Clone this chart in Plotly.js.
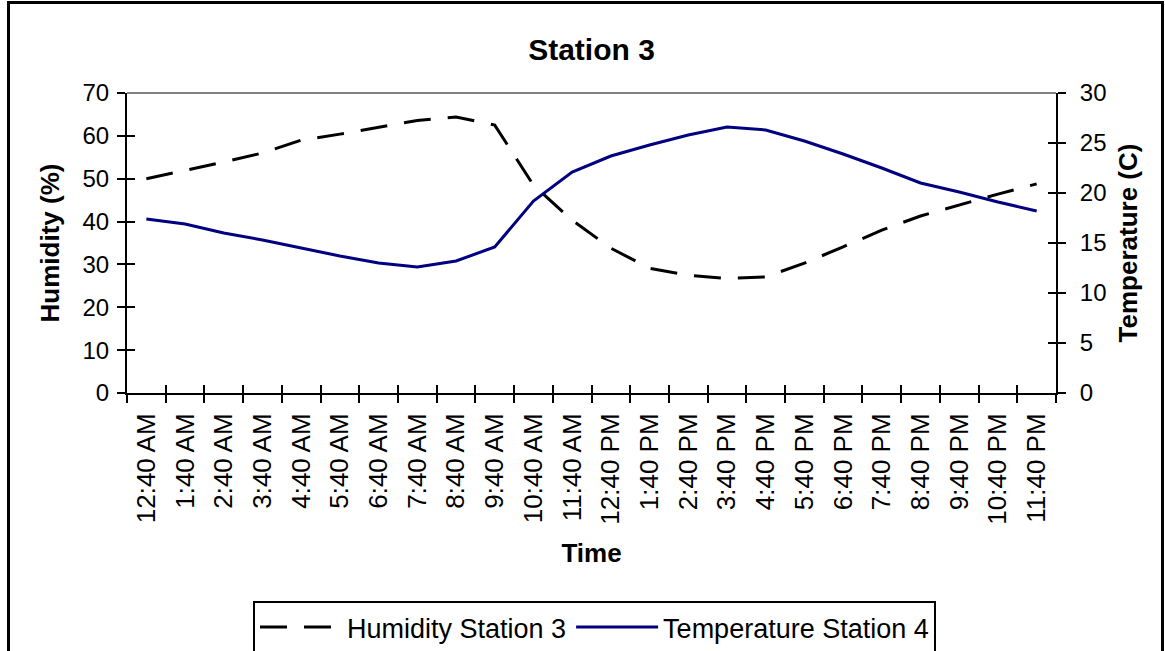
<!DOCTYPE html>
<html>
<head>
<meta charset="utf-8">
<script src="https://cdn.plot.ly/plotly-3.0.1.min.js"></script>
<style>
html,body{margin:0;padding:0;background:#fff;}
#wrap{position:relative;width:1165px;height:651px;overflow:hidden;}
#chart{width:1165px;height:651px;}
#frame{position:absolute;left:7px;top:1px;width:1151px;height:700px;border:3px solid #000;border-bottom:none;pointer-events:none;}
</style>
</head>
<body>
<div id="wrap"><div id="chart"></div><div id="frame"></div></div>
<script>
const categories = ["12:40 AM","1:40 AM","2:40 AM","3:40 AM","4:40 AM","5:40 AM","6:40 AM","7:40 AM","8:40 AM","9:40 AM","10:40 AM","11:40 AM",
  "12:40 PM","1:40 PM","2:40 PM","3:40 PM","4:40 PM","5:40 PM","6:40 PM","7:40 PM","8:40 PM","9:40 PM","10:40 PM","11:40 PM"];
const humidity = [50.0, 51.9, 53.9, 56.0, 59.0, 60.4, 62.0, 63.6, 64.4, 62.5, 48.5, 40.3,
  33.8, 29.1, 27.5, 26.7, 27.1, 30.3, 34.1, 38.0, 41.3, 43.9, 46.4, 48.8];
const temperature = [17.4, 16.9, 16.0, 15.3, 14.5, 13.7, 13.0, 12.6, 13.2, 14.6, 19.2, 22.1,
  23.7, 24.8, 25.8, 26.6, 26.3, 25.2, 23.9, 22.5, 21.0, 20.1, 19.1, 18.2];
const humidityTicks = [0,10,20,30,40,50,60,70];
const temperatureTicks = [0,5,10,15,20,25,30];

const FONT = "Liberation Sans, Arial, sans-serif";
const n = categories.length;
const boundaries = [];
for (let i = 0; i <= n; i++) boundaries.push(i - 0.5);

const traces = [
  {x: categories, y: humidity, name: "Humidity Station 3", type: "scatter", mode: "lines",
   line: {color: "#000000", width: 3, dash: "27px,17px"}, xaxis: "x", yaxis: "y"},
  {x: categories, y: temperature, name: "Temperature Station 4", type: "scatter", mode: "lines",
   line: {color: "#000080", width: 3}, xaxis: "x", yaxis: "y2"},
  {x: [null], y: [null], xaxis: "x2", yaxis: "y3", showlegend: false, hoverinfo: "skip", mode: "lines"},
  {x: [null], y: [null], xaxis: "x2", yaxis: "y4", showlegend: false, hoverinfo: "skip", mode: "lines"}
];

const tickStyle = {ticklen: 8, tickwidth: 2, tickcolor: "#000"};
const titleFont = {family: FONT, size: 26, weight: "bold", color: "#000"};

const layout = {
  width: 1165, height: 651,
  margin: {l: 127, r: 109, t: 93, b: 258, pad: 0},
  paper_bgcolor: "#fff", plot_bgcolor: "#fff",
  font: {family: FONT, color: "#000", size: 24},
  title: {text: "Station 3", font: {family: FONT, size: 30, weight: "bold", color: "#000"},
          x: 0.5, xref: "paper", y: 1 - 49/651, yref: "container", yanchor: "middle", xanchor: "center"},
  xaxis: Object.assign({type: "category", categoryorder: "array", categoryarray: categories,
    range: [-0.5, n - 0.5], tickson: "boundaries", ticks: "outside",
    showline: true, linecolor: "#000", linewidth: 2, showgrid: false, zeroline: false,
    tickangle: -90, tickfont: {family: FONT, size: 26, color: "#000"}, ticklabelstandoff: 8,
    title: {text: "Time", font: titleFont, standoff: 20},
    automargin: false, fixedrange: true}, tickStyle),
  xaxis2: Object.assign({overlaying: "x", anchor: "y", side: "bottom", type: "linear",
    range: [-0.5, n - 0.5], tickmode: "array", tickvals: boundaries, ticks: "inside",
    showticklabels: false, showline: false, showgrid: false, zeroline: false}, tickStyle),
  yaxis: Object.assign({range: [0, 70], tickmode: "array", tickvals: humidityTicks, ticks: "outside",
    showline: true, linecolor: "#000", linewidth: 2, showgrid: false, zeroline: false,
    tickfont: {family: FONT, size: 24, color: "#000"}, ticklabelstandoff: 3,
    title: {text: "Humidity (%)", font: titleFont, standoff: 15},
    automargin: false}, tickStyle),
  yaxis2: Object.assign({overlaying: "y", side: "right", anchor: "x", range: [0, 30], tickmode: "array",
    tickvals: temperatureTicks, ticks: "outside",
    showline: true, linecolor: "#000", linewidth: 2, showgrid: false, zeroline: false,
    tickfont: {family: FONT, size: 24, color: "#000"}, ticklabelstandoff: 9,
    title: {text: "Temperature (C)", font: titleFont, standoff: 13},
    automargin: false}, tickStyle),
  yaxis3: Object.assign({overlaying: "y", side: "left", anchor: "x", range: [0, 70], tickmode: "array",
    tickvals: humidityTicks, ticks: "inside", showticklabels: false, showline: false, showgrid: false, zeroline: false}, tickStyle),
  yaxis4: Object.assign({overlaying: "y", side: "right", anchor: "x", range: [0, 30], tickmode: "array",
    tickvals: temperatureTicks, ticks: "inside", showticklabels: false, showline: false, showgrid: false, zeroline: false}, tickStyle),
  shapes: [{type: "line", xref: "paper", yref: "paper", x0: 0, x1: 1, y0: 1, y1: 1,
            line: {color: "#808080", width: 2}}],
  showlegend: true,
  legend: {orientation: "h", xref: "container", yref: "container", x: 253/1165, y: 1 - 601/651,
    xanchor: "left", yanchor: "top", bordercolor: "#000", borderwidth: 2, bgcolor: "#fff",
    font: {family: FONT, size: 27, color: "#000"}, itemwidth: 82, traceorder: "normal"}
};

Plotly.newPlot("chart", traces, layout, {displayModeBar: false, staticPlot: true});
</script>
</body>
</html>
